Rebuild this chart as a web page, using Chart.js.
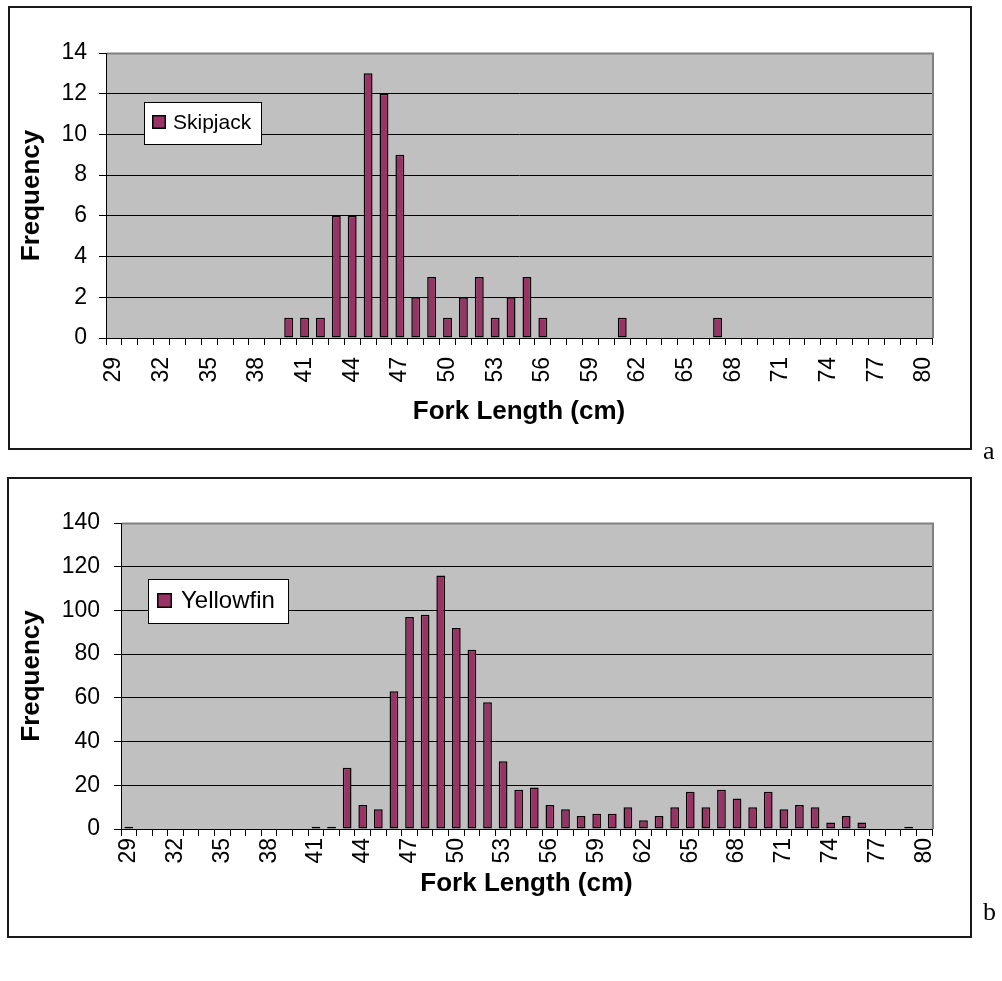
<!DOCTYPE html>
<html><head><meta charset="utf-8">
<script src="https://cdn.jsdelivr.net/npm/chart.js@4.4.0/dist/chart.umd.min.js"></script>
<style>
html,body{margin:0;padding:0;background:#fff;}
body{width:1002px;height:981px;position:relative;overflow:hidden;}
.frame{position:absolute;border:2px solid #1a1a1a;box-sizing:border-box;}
canvas{position:absolute;left:0;}
.tag{position:absolute;font-family:'Liberation Serif','Times New Roman',serif;font-size:26px;line-height:26px;color:#000;}
</style></head><body>
<div class="frame" style="left:8px;top:6px;width:964px;height:444px"></div>
<div class="frame" style="left:7px;top:477px;width:965px;height:461px"></div>
<canvas id="c1" width="1002" height="460" style="top:0"></canvas>
<canvas id="c2" width="1002" height="480" style="top:470px"></canvas>
<div class="tag" style="left:983px;top:438px">a</div>
<div class="tag" style="left:983px;top:899px">b</div>
<script>
const categories = ['29','30','31','32','33','34','35','36','37','38','39','40','41','42','43','44','45','46','47','48','49','50','51','52','53','54','55','56','57','58','59','60','61','62','63','64','65','66','67','68','69','70','71','72','73','74','75','76','77','78','79','80'];
const xTickLabels = ['29','32','35','38','41','44','47','50','53','56','59','62','65','68','71','74','77','80'];
// Skipjack counts, 29..80
const skipjack = [0,0,0,0,0,0,0,0,0,0,0, 1,1,1,6,6,13,12,9,2,3,1,2,3,1,2,3,1, 0,0,0,0, 1, 0,0,0,0,0, 1, 0,0,0,0,0,0,0,0,0,0,0,0,0];
// Yellowfin counts, 29..80
const yellowfin = [1, 0,0,0,0,0,0,0,0,0,0,0, 1,1,28,11,9,63,97,98,116,92,82,58,31,18,19,11,9,6,7,7,10,4,6,10,17,10,18,14,10,17,9,11,10,3,6,3,0,0,1,0];
const skipjackName = 'Skipjack';
const yellowfinName = 'Yellowfin';
const xTitle = 'Fork Length (cm)';
const yTitle = 'Frequency';

const FONT = "'Liberation Sans', Arial, sans-serif";

const plotDecor = {
  id: 'plotDecor',
  beforeDraw(chart) {
    const {ctx, chartArea: a} = chart;
    ctx.save();
    ctx.fillStyle = '#C0C0C0';
    ctx.fillRect(a.left, a.top, a.right - a.left, a.bottom - a.top);
    ctx.restore();
  },
  afterDraw(chart, args, o) {
    const {ctx, chartArea: a} = chart;
    ctx.save();
    ctx.strokeStyle = '#808080';
    ctx.lineWidth = 2;
    ctx.beginPath();
    ctx.moveTo(a.left + 1, a.top + 0.5);
    ctx.lineTo(a.right + 1, a.top + 0.5);
    ctx.lineTo(a.right + 1, a.bottom);
    ctx.stroke();
    // legend box
    const ds = chart.data.datasets[0];
    const bx = a.left + o.x, by = a.top + o.y;
    ctx.fillStyle = '#fff';
    ctx.fillRect(bx, by, o.w, o.h);
    ctx.strokeStyle = '#000';
    ctx.lineWidth = 1;
    ctx.strokeRect(Math.round(bx) + 0.5, Math.round(by) + 0.5, o.w, o.h);
    ctx.fillStyle = ds.backgroundColor;
    ctx.fillRect(bx + o.mx, by + o.my, o.ms, o.ms);
    ctx.lineWidth = 1.5;
    ctx.strokeRect(bx + o.mx + 0.75, by + o.my + 0.75, o.ms - 1.5, o.ms - 1.5);
    ctx.fillStyle = '#000';
    ctx.font = o.fs + 'px ' + FONT;
    ctx.textBaseline = 'middle';
    ctx.textAlign = 'left';
    ctx.fillText(ds.label, bx + o.tx, by + o.ty);
    ctx.restore();
  }
};

function makeChart(id, values, name, yMax, yStep, L) {
  return new Chart(document.getElementById(id), {
    type: 'bar',
    data: {
      labels: categories,
      datasets: [{
        label: name,
        data: values,
        backgroundColor: '#993366',
        borderColor: '#000000',
        borderWidth: 1.5,
        borderSkipped: false,
        inflateAmount: 0,
        barPercentage: 0.56,
        categoryPercentage: 1.0
      }]
    },
    plugins: [plotDecor],
    options: {
      responsive: false,
      animation: false,
      devicePixelRatio: 1,
      layout: { padding: { left: 0, top: L.top, right: L.right, bottom: 0 } },
      plugins: {
        legend: { display: false },
        tooltip: { enabled: false },
        plotDecor: L.legend
      },
      scales: {
        x: {
          type: 'category',
          offset: true,
          grid: { display: true, drawOnChartArea: false, drawTicks: true, tickLength: 7, color: '#000', lineWidth: 1, offset: true },
          border: { display: true, color: '#000', width: 1 },
          ticks: {
            autoSkip: false, minRotation: 90, maxRotation: 90, padding: L.xPad, color: '#000',
            font: { family: FONT, size: 23 },
            callback: function (v) { const lab = this.getLabelForValue(v); return xTickLabels.includes(lab) ? lab : ''; }
          },
          title: { display: true, text: xTitle, color: '#000', font: { family: FONT, size: 26, weight: 'bold', lineHeight: 1 }, padding: { top: 0, bottom: L.xTitlePad } },
          afterFit(s) { s.height = L.xH; }
        },
        y: {
          min: 0, max: yMax,
          ticks: { stepSize: yStep, padding: L.yPad, color: '#000', font: { family: FONT, size: 23 } },
          grid: { color: '#000', lineWidth: 1, tickLength: 7, drawTicks: true },
          border: { display: true, color: '#000', width: 1 },
          title: { display: true, text: yTitle, color: '#000', font: { family: FONT, size: 26, weight: 'bold', lineHeight: 1 }, padding: { top: 19, bottom: 0 } },
          afterFit(s) { s.width = L.yW; }
        }
      }
    }
  });
}

makeChart('c1', skipjack, skipjackName, 14, 2, {
  top: 53, right: 70, yW: 106, xH: 122, xPad: 12, xTitlePad: 35, yPad: 12,
  legend: { x: 38, y: 49, w: 117, h: 42, mx: 8, my: 13, ms: 14, tx: 29, ty: 21, fs: 21 }
});
makeChart('c2', yellowfin, yellowfinName, 140, 20, {
  top: 53, right: 70, yW: 121, xH: 121, xPad: 2, xTitlePad: 53, yPad: 14,
  legend: { x: 27, y: 56, w: 140, h: 44, mx: 9, my: 14, ms: 15, tx: 33, ty: 22, fs: 24 }
});
</script>
</body></html>
